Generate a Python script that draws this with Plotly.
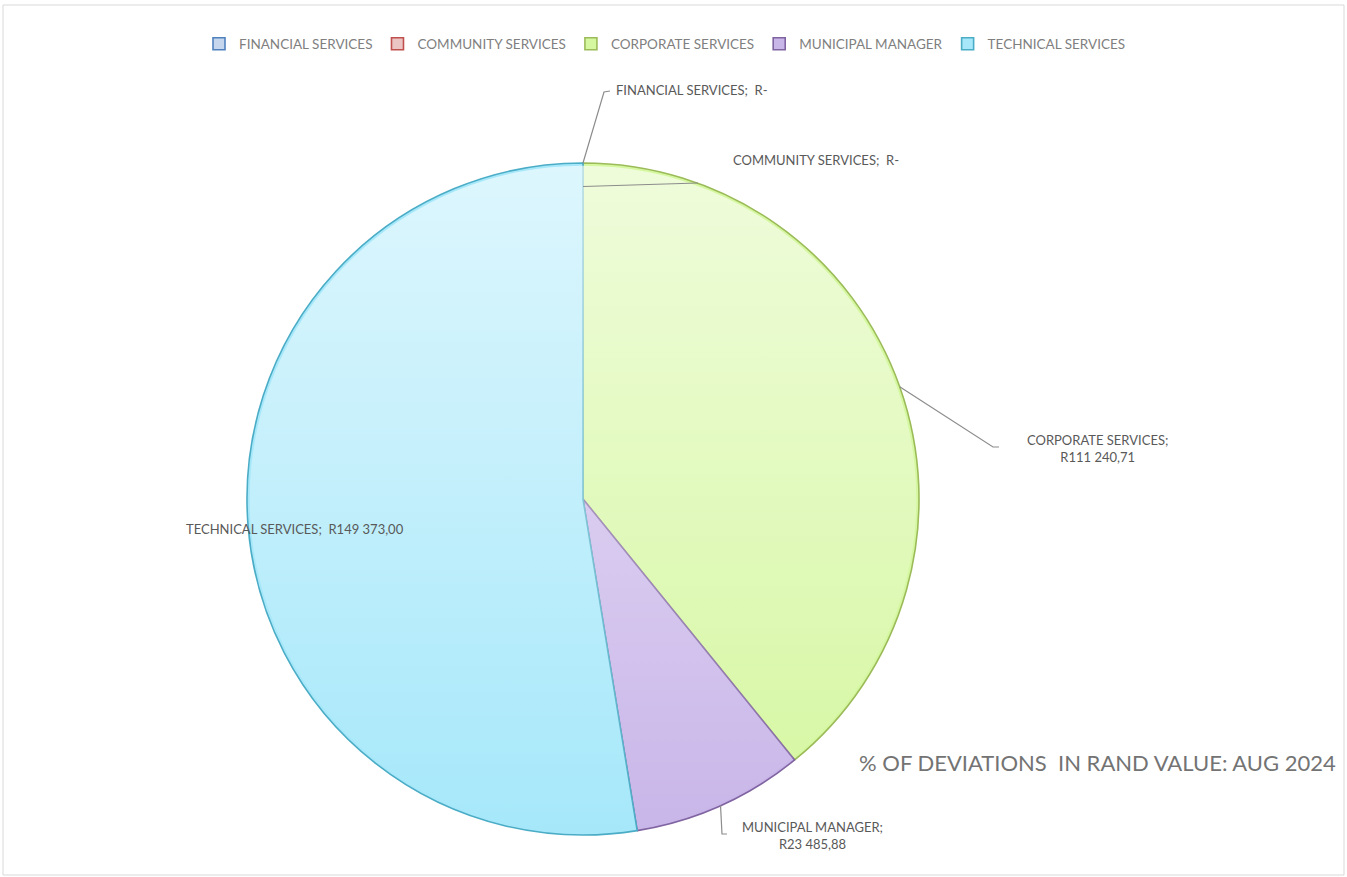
import base64
import math
import plotly.graph_objects as go

# Deviations per department, August 2024 (Rand)
departments = ["FINANCIAL SERVICES", "COMMUNITY SERVICES", "CORPORATE SERVICES",
               "MUNICIPAL MANAGER", "TECHNICAL SERVICES"]
rand_values = [0.0, 0.0, 111240.71, 23485.88, 149373.00]

fill_colors = ["#c5d6ed", "#eac5c4", "#d5f7a0", "#c9b6e9", "#a6e8fa"]
line_colors = ["#4f81bd", "#c0504d", "#9bbb59", "#8064a2", "#4bacc6"]

W, H = 1347, 877
CX, CY, R = 583, 499, 336
LABEL_GREY = "#595959"
FONT = "Lato"


def to_paper(x, y):
    return x / W, 1 - y / H


def rand_fmt(v):
    if v == 0:
        return "R-"
    whole, cents = f"{v:.2f}".split(".")
    groups = []
    while len(whole) > 3:
        groups.insert(0, whole[-3:])
        whole = whole[:-3]
    groups.insert(0, whole)
    return "R" + " ".join(groups) + "," + cents


# angular midpoints of each slice (clockwise from 12 o'clock)
total = sum(rand_values)
mids = []
acc = 0.0
for v in rand_values:
    mids.append((acc + v / 2) / total * 360)
    acc += v


def rim(angle_deg, frac=1.0):
    a = math.radians(angle_deg)
    return CX + frac * R * math.sin(a), CY - frac * R * math.cos(a)


fig = go.Figure(go.Pie(
    labels=departments,
    values=rand_values,
    sort=False,
    direction="clockwise",
    rotation=0,
    textinfo="none",
    hoverinfo="label+value",
    marker=dict(colors=fill_colors, line=dict(color=line_colors, width=1.6)),
    domain=dict(x=[(CX - R) / W, (CX + R) / W], y=[1 - (CY + R) / H, 1 - (CY - R) / H]),
    showlegend=True,
))

# soft top-to-bottom sheen over the pie
svg = (
    '<svg xmlns="http://www.w3.org/2000/svg" viewBox="0 0 100 100">'
    '<defs><linearGradient id="g" x1="0" y1="0" x2="0" y2="1">'
    '<stop offset="0" stop-color="#ffffff" stop-opacity="0.62"/>'
    '<stop offset="1" stop-color="#ffffff" stop-opacity="0"/>'
    '</linearGradient></defs>'
    '<circle cx="50" cy="50" r="49.6" fill="url(#g)"/></svg>'
)
sheen = "data:image/svg+xml;base64," + base64.b64encode(svg.encode()).decode()
x0, y0 = to_paper(CX - R, CY - R)
fig.add_layout_image(dict(source=sheen, xref="paper", yref="paper", x=x0, y=y0,
                          sizex=2 * R / W, sizey=2 * R / H, xanchor="left", yanchor="top",
                          sizing="stretch", layer="above", opacity=1))

shapes = []


def leader(points):
    pts = [to_paper(*p) for p in points]
    path = "M " + " L ".join(f"{x:.5f},{y:.5f}" for x, y in pts)
    shapes.append(dict(type="path", path=path, xref="paper", yref="paper",
                       line=dict(color="#8c8c8c", width=1.2)))


# leader lines from slices to their labels
leader([rim(mids[0]), (604, 92), (610, 91)])
leader([rim(mids[1], 0.93), (698, 183)])
leader([rim(mids[2]), (993, 447), (999, 447)])
leader([rim(mids[3]), (722, 834), (727, 834)])

# chart border
shapes.append(dict(type="rect", xref="paper", yref="paper",
                   x0=3 / W, x1=1344 / W, y0=1 - 875 / H, y1=1 - 5 / H,
                   line=dict(color="#d9d9d9", width=1)))

annotations = []


def label(text, x, y, xanchor="left", align="left"):
    px_, py_ = to_paper(x, y)
    annotations.append(dict(text=text, x=px_, y=py_, xref="paper", yref="paper",
                            xanchor=xanchor, yanchor="middle", align=align,
                            showarrow=False, font=dict(family=FONT, size=13, color=LABEL_GREY)))


label(f"{departments[0]};  {rand_fmt(rand_values[0])}", 614, 90)
label(f"{departments[1]};  {rand_fmt(rand_values[1])}", 731, 160)
label(f"{departments[2]};<br>{rand_fmt(rand_values[2])}", 1097, 448, "center", "center")
label(f"{departments[3]};<br>{rand_fmt(rand_values[3])}", 812, 835, "center", "center")
label(f"{departments[4]};  {rand_fmt(rand_values[4])}", 184, 529)

tx, ty = to_paper(1338, 762)
annotations.append(dict(text="% OF DEVIATIONS  IN RAND VALUE: AUG 2024", x=tx, y=ty,
                        xref="paper", yref="paper", xanchor="right", yanchor="middle",
                        showarrow=False, font=dict(family=FONT, size=22, color="#737373")))

fig.update_layout(
    width=W, height=H, autosize=False,
    margin=dict(l=0, r=0, t=0, b=0),
    paper_bgcolor="white", plot_bgcolor="white",
    font=dict(family=FONT, color=LABEL_GREY),
    legend=dict(orientation="h", x=665 / W, xanchor="center", y=1 - 44 / H, yanchor="middle",
                font=dict(family=FONT, size=13.5, color="#7f7f7f"), itemclick=False,
                traceorder="normal"),
    shapes=shapes,
    annotations=annotations,
)

fig.write_html("out.html")
